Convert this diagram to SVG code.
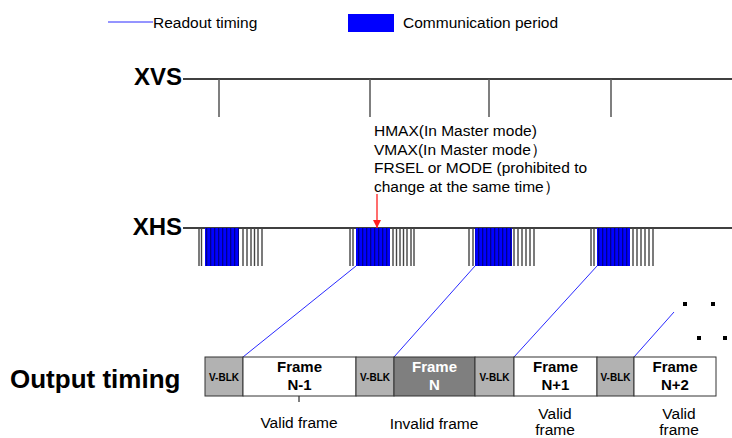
<svg xmlns="http://www.w3.org/2000/svg" width="732" height="438" viewBox="0 0 732 438">
<defs>
  <pattern id="comm" x="0" y="0" width="4" height="40" patternUnits="userSpaceOnUse">
    <rect x="0" y="0" width="4" height="40" fill="#0000ff"/>
    <rect x="2" y="0" width="1.3" height="40" fill="#00008b"/>
  </pattern>
  <marker id="redhead" viewBox="0 0 10 10" refX="10" refY="5" markerWidth="8" markerHeight="8" markerUnits="userSpaceOnUse" orient="auto">
    <path d="M0,0 L10,5 L0,10 z" fill="#ff2020"/>
  </marker>
</defs>
<style>
  .t { font-family: "Liberation Sans", Arial, sans-serif; fill: #000; }
  .reg { font-size: 15.5px; }
  .big { font-size: 24px; font-weight: bold; }
  .fr { font-size: 15px; font-weight: bold; text-anchor: middle; }
  .vb { font-size: 10px; font-weight: bold; text-anchor: middle; }
  .lbl { font-size: 15.5px; text-anchor: middle; }
  .sig { stroke: #000; stroke-width: 1.3; }
  .tick { stroke: #555; stroke-width: 1.5; }
  .pl { stroke: #444; stroke-width: 1.4; }
  .ro { stroke: #2a2aff; stroke-width: 1; fill: none; }
  .vblk { fill: #b2b2b2; stroke: #333; stroke-width: 1; }
  .frw { fill: #fff; stroke: #333; stroke-width: 1; }
  .frd { fill: #7f7f7f; stroke: #333; stroke-width: 1; }
</style>

<g id="legend">
  <line x1="108" y1="22" x2="153" y2="22" class="ro"/>
  <text x="153" y="28" class="t reg">Readout timing</text>
  <rect x="348" y="14" width="46" height="18" fill="#0000ff"/>
  <text x="403" y="28" class="t reg">Communication period</text>
</g>

<g id="xvs">
  <text x="182" y="85" class="t big" text-anchor="end">XVS</text>
  <line x1="183" y1="79" x2="732" y2="79" class="sig"/>
  <line x1="219" y1="79" x2="219" y2="117" class="tick"/>
  <line x1="370" y1="79" x2="370" y2="117" class="tick"/>
  <line x1="489" y1="79" x2="489" y2="117" class="tick"/>
  <line x1="611" y1="79" x2="611" y2="117" class="tick"/>
</g>

<g id="note">
  <text x="374" y="136" class="t reg">HMAX(In Master mode)</text>
  <text x="374" y="154.5" class="t reg">VMAX(In Master mode）</text>
  <text x="374" y="173" class="t reg">FRSEL or MODE (prohibited to</text>
  <text x="374" y="191.5" class="t reg">change at the same time）</text>
</g>

<g id="xhs">
  <text x="182" y="235" class="t big" text-anchor="end">XHS</text>
  <line x1="183" y1="228" x2="732" y2="228" class="sig"/>
  <g id="pulses1">
    <path class="pl" d="M199,228V266M201.5,228V266M243,228V266M247,228V266M251,228V266M254.5,228V266M258,228V266M262,228V266"/>
    <rect x="205" y="228" width="34" height="38" fill="url(#comm)"/>
  </g>
  <g id="pulses2">
    <path class="pl" d="M350,228V266M353,228V266M393,228V266M396.5,228V266M400,228V266M403.5,228V266M407,228V266M411,228V266M414,228V266"/>
    <rect x="356" y="228" width="34" height="38" fill="url(#comm)"/>
  </g>
  <g id="pulses3">
    <path class="pl" d="M469,228V266M473,228V266M514,228V266M518,228V266M522,228V266M526,228V266M530,228V266M534,228V266"/>
    <rect x="475" y="228" width="37" height="38" fill="url(#comm)"/>
  </g>
  <g id="pulses4">
    <path class="pl" d="M591,228V266M594,228V266M633,228V266M637,228V266M641,228V266M645,228V266M649,228V266M653,228V266"/>
    <rect x="597" y="228" width="33" height="38" fill="url(#comm)"/>
  </g>
</g>

<g id="connectors">
  <line x1="377" y1="194" x2="377" y2="228" stroke="#ff2020" stroke-width="1.3" marker-end="url(#redhead)"/>
  <line x1="356" y1="266" x2="243" y2="357" class="ro"/>
  <line x1="475" y1="266" x2="394" y2="357" class="ro"/>
  <line x1="597" y1="266" x2="514" y2="357" class="ro"/>
  <line x1="674" y1="312" x2="634" y2="357" class="ro"/>
  <line x1="299" y1="396" x2="299" y2="402" stroke="#000" stroke-width="1"/>
</g>

<g id="dots" fill="#000">
  <rect x="683" y="302" width="4" height="4"/>
  <rect x="711" y="302" width="4" height="4"/>
  <rect x="697" y="336" width="4" height="4"/>
  <rect x="723" y="336" width="4" height="4"/>
</g>

<text x="10" y="388" class="t" style="font-size:26px;font-weight:bold">Output timing</text>

<g id="vblk1"><rect x="205" y="357" width="38" height="39" class="vblk"/><text x="224" y="380.5" class="t vb">V-BLK</text></g>
<g id="frameN-1"><rect x="243" y="357" width="113" height="39" class="frw"/><text x="299.5" y="372" class="t fr">Frame</text><text x="299.5" y="390" class="t fr">N-1</text></g>
<g id="vblk2"><rect x="356" y="357" width="38" height="39" class="vblk"/><text x="375" y="380.5" class="t vb">V-BLK</text></g>
<g id="frameN"><rect x="394" y="357" width="81" height="39" class="frd"/><text x="434.5" y="372" class="t fr" style="fill:#fff">Frame</text><text x="434.5" y="390" class="t fr" style="fill:#fff">N</text></g>
<g id="vblk3"><rect x="475" y="357" width="39" height="39" class="vblk"/><text x="494.5" y="380.5" class="t vb">V-BLK</text></g>
<g id="frameN+1"><rect x="514" y="357" width="83" height="39" class="frw"/><text x="555.5" y="372" class="t fr">Frame</text><text x="555.5" y="390" class="t fr">N+1</text></g>
<g id="vblk4"><rect x="597" y="357" width="37" height="39" class="vblk"/><text x="615.5" y="380.5" class="t vb">V-BLK</text></g>
<g id="frameN+2"><rect x="634" y="357" width="82" height="39" class="frw"/><text x="675" y="372" class="t fr">Frame</text><text x="675" y="390" class="t fr">N+2</text></g>

<g id="labels">
  <text x="299" y="428" class="t lbl">Valid frame</text>
  <text x="434" y="429" class="t lbl">Invalid frame</text>
  <text x="555" y="419" class="t lbl">Valid</text>
  <text x="555" y="435" class="t lbl">frame</text>
  <text x="679" y="419" class="t lbl">Valid</text>
  <text x="679" y="435" class="t lbl">frame</text>
</g>
</svg>
